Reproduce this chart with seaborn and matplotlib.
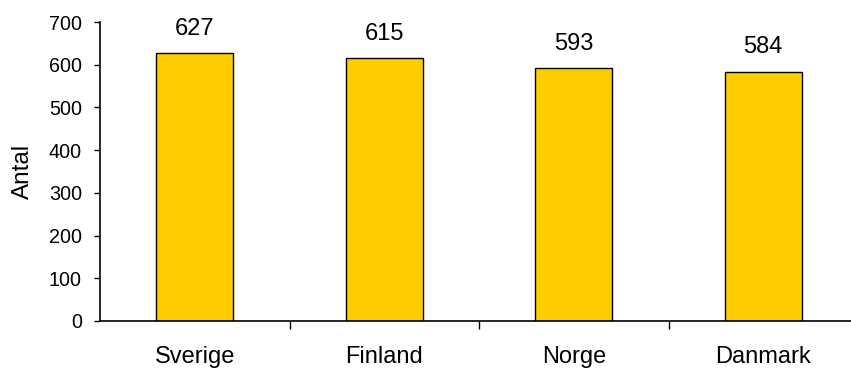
import matplotlib
matplotlib.use("Agg")
import matplotlib.pyplot as plt
import seaborn as sns
import pandas as pd

countries = ["Sverige", "Finland", "Norge", "Danmark"]
counts = [627, 615, 593, 584]
y_ticks = [0, 100, 200, 300, 400, 500, 600, 700]

sns.set_style("ticks")
plt.rcParams["font.family"] = ["Liberation Sans", "DejaVu Sans"]
plt.rcParams["text.color"] = "black"
plt.rcParams["xtick.color"] = "black"
plt.rcParams["ytick.color"] = "black"
plt.rcParams["axes.labelcolor"] = "black"

df = pd.DataFrame({"land": countries, "antal": counts})

fig = plt.figure(figsize=(8.51, 3.69), dpi=100)
ax = fig.add_axes([100 / 851, 48 / 369, 758 / 851, 299 / 369])

sns.barplot(data=df, x="land", y="antal", color="#FFCC00", width=0.405,
            edgecolor="black", linewidth=1.0, saturation=1, ax=ax)

for i, v in enumerate(counts):
    ax.annotate(str(v), xy=(i, v), xytext=(0, 9.5), textcoords="offset points",
                ha="center", va="bottom", fontsize=17, color="black")

ax.set_xlim(-0.5, 3.5)
ax.set_ylim(0, 700)
ax.set_yticks(y_ticks)
ax.set_yticklabels([str(t) for t in y_ticks], fontsize=14.2)
ax.set_xticks(range(len(countries)))
ax.set_xticklabels(countries, fontsize=17)
ax.set_xticks([0.5, 1.5, 2.5], minor=True)
ax.tick_params(axis="x", which="major", length=0, pad=18)
ax.tick_params(axis="x", which="minor", length=6, width=1, direction="out")
ax.tick_params(axis="y", which="major", length=4, width=1, direction="out", pad=9)

ax.set_xlabel("")
ax.set_ylabel("Antal", fontsize=17.5, labelpad=11)

for side in ("top", "right"):
    ax.spines[side].set_visible(False)
for side in ("left", "bottom"):
    ax.spines[side].set_linewidth(1.2)
    ax.spines[side].set_color("black")

fig.savefig("out.png", dpi=100)
